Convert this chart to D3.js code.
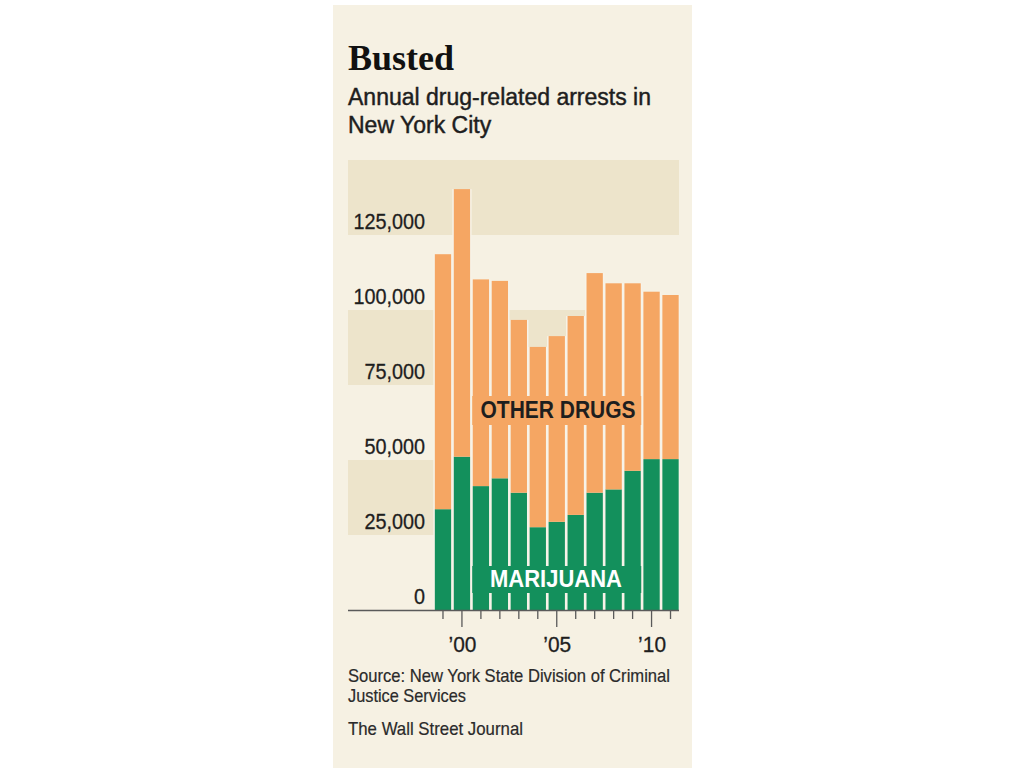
<!DOCTYPE html>
<html>
<head>
<meta charset="utf-8">
<script src="https://cdn.jsdelivr.net/npm/d3@7"></script>
<style>
  html, body { margin: 0; padding: 0; background: #ffffff; }
  svg { display: block; }
</style>
</head>
<body>
<svg id="chart" width="1024" height="768"></svg>
<script>
// ---- data ----
const years = [1999, 2000, 2001, 2002, 2003, 2004, 2005, 2006, 2007, 2008, 2009, 2010, 2011];
const marijuana = [33600, 51100, 41300, 43900, 39100, 27600, 29400, 31700, 39100, 40200, 46400, 50300, 50300];
const otherDrugs = [85000, 89200, 68900, 65800, 57600, 60100, 61900, 66300, 73200, 68700, 62500, 55800, 54700];
const yTicks = [0, 25000, 50000, 75000, 100000, 125000];
const bandRanges = [[25000, 50000], [75000, 100000], [125000, 150000]];
const xLabelYears = [2000, 2005, 2010];
const xLabels = ["\u201900", "\u201905", "\u201910"];

const title = "Busted";
const subtitle = ["Annual drug-related arrests in", "New York City"];
const source = ["Source: New York State Division of Criminal", "Justice Services"];
const credit = "The Wall Street Journal";

// ---- styles ----
const C = {
  panel: "#f6f1e3",
  band: "#ede4cb",
  orange: "#f5a663",
  green: "#13905c",
  text: "#1e1e1e",
  axis: "#5a5a5a",
  gap: "#f7f3e8"
};
const sans = "'Liberation Sans', Arial, sans-serif";

const svg = d3.select("#chart");
svg.append("rect").attr("x", 0).attr("y", 0).attr("width", 1024).attr("height", 768).attr("fill", "#ffffff");
svg.append("rect").attr("x", 333).attr("y", 5).attr("width", 359).attr("height", 763).attr("fill", C.panel);

// scales
const y = d3.scaleLinear().domain([0, 150000]).range([610, 160]);
const x = d3.scaleBand().domain(years).range([433.5, 680]).paddingInner(0.14).paddingOuter(0.07);
const plotLeft = 348, plotRight = 679;

// bands
svg.append("g").selectAll("rect").data(bandRanges).join("rect")
  .attr("x", plotLeft).attr("width", plotRight - plotLeft)
  .attr("y", d => y(d[1])).attr("height", d => y(d[0]) - y(d[1]))
  .attr("fill", C.band);

// stacked data
const rows = years.map((yr, i) => ({ year: yr, marijuana: marijuana[i], other: otherDrugs[i] }));
const stack = d3.stack().keys(["marijuana", "other"])(rows);
const colors = { marijuana: C.green, other: C.orange };

// light backing behind bars so gaps look pale
svg.append("g").selectAll("rect").data(rows).join("rect")
  .attr("x", d => x(d.year) - 1.5)
  .attr("width", x.bandwidth() + 3)
  .attr("y", d => y(d.marijuana + d.other))
  .attr("height", d => y(0) - y(d.marijuana + d.other))
  .attr("fill", C.gap);

svg.append("g").selectAll("g").data(stack).join("g")
  .attr("fill", s => colors[s.key])
  .selectAll("rect").data(s => s).join("rect")
  .attr("x", d => x(d.data.year))
  .attr("width", x.bandwidth())
  .attr("y", d => y(d[1]))
  .attr("height", d => y(d[0]) - y(d[1]));

// label backgrounds covering gaps (from 2001 to 2009 bars)
const bgLeft = x(2001) - 0.5, bgRight = x(2009) + x.bandwidth() + 0.5;
svg.append("rect").attr("x", bgLeft).attr("width", bgRight - bgLeft)
  .attr("y", 396).attr("height", 29).attr("fill", C.orange);
svg.append("rect").attr("x", bgLeft).attr("width", bgRight - bgLeft)
  .attr("y", 566).attr("height", 27).attr("fill", C.green);

svg.append("text").attr("x", 558).attr("y", 418)
  .attr("text-anchor", "middle")
  .attr("font-family", sans).attr("font-weight", "bold").attr("font-size", 24)
  .attr("textLength", 155).attr("lengthAdjust", "spacingAndGlyphs")
  .attr("fill", C.text).text("OTHER DRUGS");
svg.append("text").attr("x", 556).attr("y", 587)
  .attr("text-anchor", "middle")
  .attr("font-family", sans).attr("font-weight", "bold").attr("font-size", 23)
  .attr("textLength", 132).attr("lengthAdjust", "spacingAndGlyphs")
  .attr("fill", "#ffffff").text("MARIJUANA");

function condense(sel, k) {
  sel.each(function () {
    const w = this.getComputedTextLength();
    d3.select(this).attr("textLength", w * k).attr("lengthAdjust", "spacingAndGlyphs");
  });
}

// y axis labels
svg.append("g").selectAll("text").data(yTicks).join("text")
  .attr("x", 425).attr("y", d => y(d) - 6.5)
  .attr("text-anchor", "end")
  .attr("font-family", sans).attr("font-size", 22)
  .attr("fill", C.text).attr("stroke", C.text).attr("stroke-width", 0.3)
  .text(d => d3.format(",")(d))
  .call(condense, 0.9);

// x axis baseline
svg.append("line").attr("x1", plotLeft).attr("x2", plotRight)
  .attr("y1", y(0) + 0.5).attr("y2", y(0) + 0.5)
  .attr("stroke", C.axis).attr("stroke-width", 1.6);

// ticks
svg.append("g").selectAll("line").data(years).join("line")
  .attr("x1", d => x(d) + x.bandwidth() / 2).attr("x2", d => x(d) + x.bandwidth() / 2)
  .attr("y1", y(0) + 1)
  .attr("y2", d => xLabelYears.includes(d) ? y(0) + 17 : y(0) + 9)
  .attr("stroke", C.axis).attr("stroke-width", 1.3);

svg.append("g").selectAll("text").data(xLabelYears).join("text")
  .attr("x", d => x(d) + x.bandwidth() / 2 + 0.5)
  .attr("y", 652)
  .attr("text-anchor", "middle")
  .attr("font-family", sans).attr("font-size", 22)
  .attr("fill", C.text).attr("stroke", C.text).attr("stroke-width", 0.3)
  .text((d, i) => xLabels[i])
  .call(condense, 0.95);

// title
svg.append("text").attr("x", 348).attr("y", 70)
  .attr("font-family", "'Liberation Serif', 'DejaVu Serif', serif")
  .attr("font-weight", "bold").attr("font-size", 36)
  .attr("textLength", 106).attr("lengthAdjust", "spacingAndGlyphs")
  .attr("fill", "#111").text(title);

svg.append("g").selectAll("text").data(subtitle).join("text")
  .attr("x", 348).attr("y", (d, i) => 105 + i * 28)
  .attr("font-family", sans).attr("font-size", 23)
  .attr("fill", C.text)
  .attr("stroke", C.text).attr("stroke-width", 0.45)
  .text(d => d);

const srcW = [322, 118];
svg.append("g").selectAll("text").data(source).join("text")
  .attr("x", 348).attr("y", (d, i) => 682 + i * 20)
  .attr("font-family", sans).attr("font-size", 18.5)
  .attr("textLength", (d, i) => srcW[i]).attr("lengthAdjust", "spacingAndGlyphs")
  .attr("fill", "#2a2a2a").attr("stroke", "#2a2a2a").attr("stroke-width", 0.2)
  .text(d => d);

svg.append("text").attr("x", 348).attr("y", 735)
  .attr("font-family", sans).attr("font-size", 18.5)
  .attr("textLength", 175).attr("lengthAdjust", "spacingAndGlyphs")
  .attr("fill", "#2a2a2a").attr("stroke", "#2a2a2a").attr("stroke-width", 0.2)
  .text(credit);
</script>
</body>
</html>
